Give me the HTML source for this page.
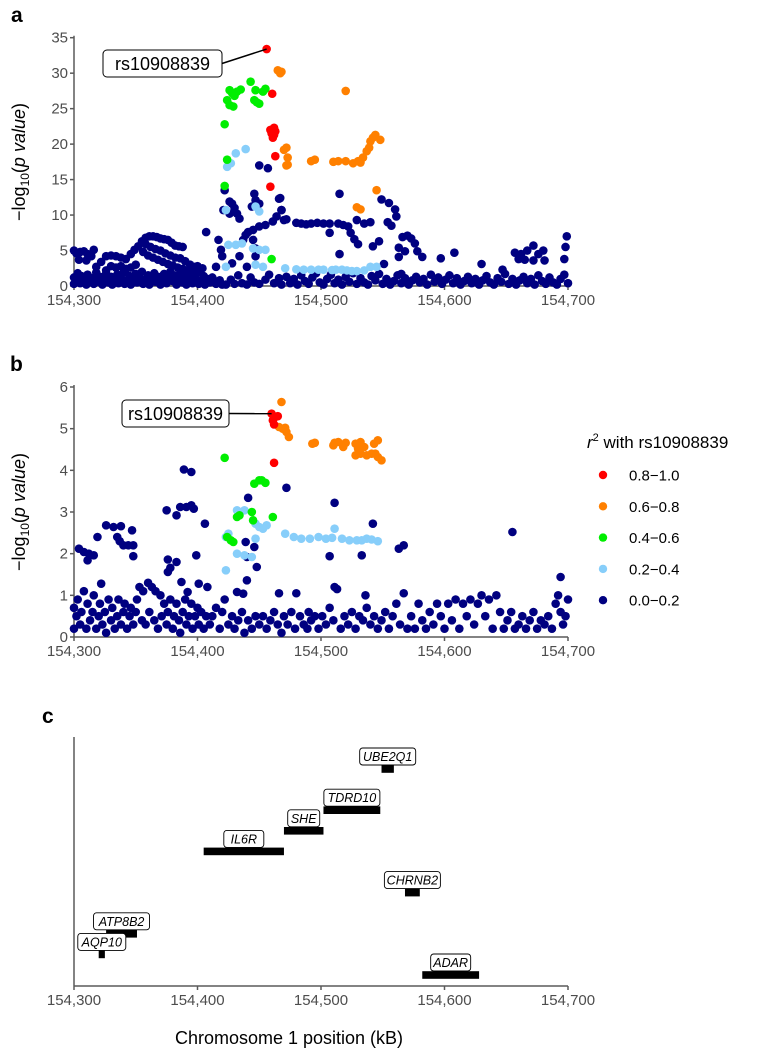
<!DOCTYPE html>
<html><head><meta charset="utf-8"><style>
html,body{margin:0;padding:0;background:#fff;}
svg{display:block;font-family:"Liberation Sans",Arial,sans-serif;}
.tick{font-size:15px;fill:#4d4d4d;}
.axis{stroke:#5a5a5a;stroke-width:1.5;fill:none;}
</style></head><body>
<svg id="fig" width="762" height="1049" viewBox="0 0 762 1049" xmlns="http://www.w3.org/2000/svg">
<text x="11" y="22" font-size="21" font-weight="bold">a</text>
<text x="10" y="371" font-size="21" font-weight="bold">b</text>
<text x="42" y="723" font-size="21" font-weight="bold">c</text>
<text transform="translate(25,162) rotate(-90)" text-anchor="middle" font-size="18" fill="#000">−log<tspan font-size="12" dy="4">10</tspan><tspan dy="-4">(</tspan><tspan font-style="italic">p value</tspan>)</text>
<text transform="translate(25,512) rotate(-90)" text-anchor="middle" font-size="18" fill="#000">−log<tspan font-size="12" dy="4">10</tspan><tspan dy="-4">(</tspan><tspan font-style="italic">p value</tspan>)</text>
<g id="gA"></g>
<g id="gB"></g>
<g id="gC"></g>
<g>
<text x="587" y="448" font-size="17"><tspan font-style="italic">r</tspan><tspan font-size="11" dy="-7">2</tspan><tspan dy="7"> with rs10908839</tspan></text>
<g id="legendItems"></g>
</g>
<text x="289" y="1044" text-anchor="middle" font-size="18">Chromosome 1 position (kB)</text>
</svg>
<script>
const xTicks=[154300,154400,154500,154600,154700];
const xTickLabels=["154,300","154,400","154,500","154,600","154,700"];
const aYTicks=[0,5,10,15,20,25,30,35];
const bYTicks=[0,1,2,3,4,5,6];
const legendLabels=["0.8−1.0","0.6−0.8","0.4−0.6","0.2−0.4","0.0−0.2"];
const legendColors=["#ff0000","#ff8000","#00ee00","#87cefa","#000080"];
// Panel a data (position kb, -log10 p)
const aRed=[[154456,33.4],[154460.5,27.1],[154459,22],[154460,21.5],[154461,22.1],[154462,21.3],[154463,21.8],[154461,20.9],[154462,22.3],[154463,18.3],[154459,14.0]];
const aOrange=[[154465,30.4],[154467,30.0],[154468,30.2],[154520,27.5],[154544,21.3],[154548,20.6],[154540,20.4],[154542,20.9],[154539,19.5],[154537,19.0],[154534,18.1],[154532,17.4],[154530,17.6],[154526,17.3],[154520,17.6],[154514,17.6],[154510,17.5],[154495,17.8],[154492,17.6],[154470,19.2],[154472,19.5],[154473,18.1],[154473,17.1],[154472,17.0],[154545,13.5],[154529,11.1],[154532,10.8]];
const aGreen=[[154443,28.8],[154426,27.6],[154432,27.4],[154435,27.7],[154430,26.8],[154428,27.2],[154447,27.6],[154453,27.4],[154455,27.8],[154446,26.2],[154450,25.7],[154448,25.9],[154424,26.2],[154426,25.5],[154429,25.3],[154422,22.8],[154424,17.8],[154422,14.1],[154460,3.8]];
const aLightBlue=[[154439,19.3],[154431,18.7],[154427,17.3],[154424,16.8],[154423,10.7],[154447,11.2],[154450,10.5],[154425,5.8],[154431,5.8],[154436,6.0],[154445,5.3],[154450,5.1],[154455,5.1],[154447,3.0],[154453,2.7],[154423,2.7],[154471,2.5],[154480,2.35],[154486,2.3],[154492,2.3],[154498,2.3],[154502,2.3],[154509,2.25],[154512,2.3],[154517,2.3],[154521,2.2],[154525,2.1],[154529,2.1],[154535,2.2],[154540,2.7],[154545,2.7]];
const aNavy=[[154300,5],[154302,4.6],[154305,4.8],[154308,4.9],[154311,4.5],[154314,4.2],[154316,5.1],[154304,3.7],[154310,3.6],[154318,2.7],[154322,3.4],[154326,4.2],[154330,4.3],[154334,4.2],[154338,4],[154342,3.8],[154346,4.5],[154349,5.1],[154352,5.6],[154355,6.3],[154358,6.8],[154361,7],[154364,7],[154367,6.9],[154370,6.7],[154373,6.6],[154376,6.5],[154379,6.1],[154382,5.7],[154385,5.6],[154388,5.5],[154358,5.9],[154362,5.5],[154366,5.2],[154370,5],[154374,4.6],[154378,4.3],[154382,4],[154386,3.9],[154390,3.5],[154394,3],[154398,2.7],[154356,4.8],[154360,4.3],[154364,4],[154368,3.7],[154372,3.4],[154376,3.1],[154380,2.9],[154384,2.6],[154388,2.4],[154392,2.2],[154396,2.4],[154400,2.8],[154404,2.5],[154407,7.6],[154330,2.8],[154334,2.6],[154338,2.8],[154342,2.4],[154346,2.6],[154350,3],[154326,2.2],
[154422,13.5],[154426,11.9],[154428,11.6],[154430,11.0],[154432,10.2],[154421,10.7],[154426,10.2],[154434,9.5],[154446,13.0],[154447,12.1],[154444,11.2],[154450,11.6],[154450,17.0],[154457,16.6],[154466,12.3],[154468,10.7],[154464,9.8],[154461,9.1],[154455,8.6],[154450,8.4],[154445,7.9],[154439,7.2],[154437,6.5],[154441,7.6],[154445,6.5],[154447,5.3],[154447,4.2],[154440,2.7],[154417,6.5],[154419,5.1],[154420,4.2],[154415,2.7],[154428,3.2],[154434,4.2],[154470,9.3],[154480,8.9],[154484,8.8],[154488,8.7],[154492,8.8],[154497,8.9],[154502,8.8],[154507,8.8],[154514,8.8],[154518,8.6],[154522,8.4],[154529,9.3],[154535,8.8],[154540,9.0],[154524,7.5],[154527,6.6],[154530,5.9],[154507,7.5],[154515,4.5],[154515,13.0],[154467,12.4],[154468,10.7],[154472,9.4],[154549,12.2],[154555,11.7],[154560,10.8],[154561,9.8],[154554,9.0],[154557,8.5],[154547,6.3],[154542,5.6],[154551,3.1],[154566,6.9],[154570,7.1],[154573,6.7],[154576,6],[154563,5.4],[154568,4.9],[154563,4.1],[154578,4.9],[154582,4.1],[154565,1.7],[154597,3.9],[154608,4.7],[154630,3.1],[154647,2.3],[154657,4.7],[154662,4.5],[154667,5.0],[154672,5.7],[154676,4.5],[154680,5],[154681,3.6],[154699,7.0],[154698,5.5],[154697,3.8],[154660,3.8],[154665,3.7],[154672,3.6],
[154300,0.3],[154300,1.2],[154302,0.8],[154303,1.8],[154305,0.4],[154306,1.4],[154308,0.9],[154310,0.2],[154311,1.6],[154313,0.7],[154315,1.1],[154316,0.3],[154318,1.9],[154320,0.6],[154321,1.3],[154323,0.2],[154325,1.0],[154326,1.7],[154328,0.5],[154330,1.3],[154331,0.2],[154333,0.9],[154335,1.6],[154336,0.4],[154338,1.1],[154340,1.9],[154341,0.3],[154343,0.8],[154345,1.4],[154346,0.2],[154348,1.0],[154350,1.7],[154351,0.5],[154353,1.2],[154355,2.0],[154356,0.3],[154358,0.9],[154360,1.5],[154361,0.2],[154363,1.1],[154365,1.8],[154366,0.6],[154368,1.3],[154370,0.2],[154371,1.0],[154373,1.7],[154375,0.4],[154376,1.2],[154378,2.0],[154380,0.7],[154381,1.5],[154383,0.2],[154385,1.0],[154386,1.8],[154388,0.5],[154390,1.3],[154391,0.2],[154393,0.9],[154395,1.6],[154396,0.4],[154398,1.1],[154400,1.9],[154401,0.3],[154403,0.8],[154405,1.4],[154406,0.2],[154408,1.0],[154410,0.5],[154412,1.2],[154415,0.3],[154418,0.8],[154420,0.2],
[154423,0.2],[154427,0.9],[154430,0.3],[154433,1.5],[154436,0.4],[154440,0.2],[154443,1.2],[154446,0.5],[154450,0.3],[154455,0.9],[154458,1.6],[154462,0.4],[154466,1.1],[154468,0.2],
[154472,1.3],[154475,0.4],[154478,1.0],[154481,0.2],[154484,1.5],[154487,0.7],[154490,0.3],[154493,1.2],[154496,1.8],[154499,0.5],[154502,0.2],[154505,1.0],[154508,1.6],[154511,0.4],[154514,0.9],[154517,0.2],[154520,1.3],[154523,0.6],[154526,1.8],[154529,0.3],[154532,1.1],[154535,0.5],[154538,0.2],[154541,1.4],[154544,0.8],[154547,1.7],[154550,0.3],[154553,1.0],[154556,0.2],[154559,0.7],[154562,1.5],[154565,0.4],[154568,1.1],[154571,0.2],[154574,0.8],[154577,1.3],[154580,0.5],[154583,1.0],[154586,0.2],[154589,1.6],[154592,0.6],[154595,1.2],[154598,0.3],[154601,0.9],[154604,1.5],[154607,0.4],[154610,1.1],[154613,0.2],[154616,0.7],[154619,1.3],[154622,0.4],[154625,1.0],[154628,0.2],[154631,0.8],[154634,1.4],[154637,0.5],[154640,0.2],[154643,1.1],[154646,0.6],[154649,1.7],[154652,0.3],[154655,1.0],[154658,0.2],[154661,0.8],[154664,1.3],[154667,0.4],[154670,1.0],[154673,0.2],[154676,1.5],[154679,0.7],[154682,0.3],[154685,1.2],[154688,0.5],[154691,0.2],[154694,1.0],[154697,1.6],[154700,0.4]];
// Panel b data
const bRed=[[154460,5.36],[154463,5.28],[154461,5.2],[154465,5.3],[154462,5.1],[154462,4.18]];
const bOrange=[[154468,5.64],[154466,5.04],[154469,5.0],[154472,4.92],[154474,4.8],[154471,5.02],[154495,4.66],[154493,4.64],[154510,4.6],[154511,4.66],[154514,4.68],[154520,4.66],[154518,4.56],[154528,4.64],[154530,4.52],[154532,4.68],[154535,4.56],[154528,4.36],[154532,4.4],[154537,4.36],[154541,4.4],[154546,4.72],[154543,4.64],[154544,4.4],[154549,4.24],[154546,4.32]];
const bGreen=[[154422,4.3],[154446,3.68],[154450,3.76],[154452,3.76],[154455,3.7],[154444,3.0],[154445,2.8],[154461,2.88],[154432,2.88],[154434,2.92],[154424,2.4],[154427,2.32],[154429,2.28]];
const bLightBlue=[[154432,3.04],[154438,3.04],[154447,2.72],[154450,2.64],[154453,2.6],[154456,2.68],[154423,2.4],[154425,2.48],[154447,2.36],[154432,2.0],[154438,1.96],[154444,1.92],[154423,1.6],[154471,2.48],[154478,2.4],[154484,2.36],[154491,2.36],[154498,2.4],[154504,2.36],[154511,2.6],[154509,2.38],[154517,2.36],[154523,2.32],[154529,2.32],[154533,2.32],[154537,2.36],[154541,2.34],[154546,2.3]];
const bNavy=[[154304,2.12],[154308,2.04],[154312,2.0],[154316,1.96],[154311,1.84],[154319,2.4],[154326,2.68],[154332,2.64],[154338,2.66],[154335,2.4],[154337,2.3],[154340,2.2],[154344,2.2],[154347,2.56],[154348,2.2],[154348,1.94],[154322,1.28],[154376,1.86],[154383,1.8],[154378,1.66],[154376,1.56],[154375,3.04],[154383,2.92],[154386,3.12],[154391,3.12],[154395,3.16],[154397,3.08],[154389,4.02],[154395,3.96],[154406,2.72],[154399,1.96],[154387,1.32],[154392,1.08],[154401,1.28],[154408,1.2],[154441,3.34],[154439,2.28],[154446,2.16],[154440,1.92],[154448,1.68],[154440,1.36],[154432,1.08],[154437,1.04],[154472,3.58],[154511,3.22],[154507,1.94],[154533,1.96],[154542,2.72],[154563,2.12],[154567,2.2],[154655,2.52],[154694,1.44],
[154300,0.2],[154300,0.7],[154302,0.5],[154303,0.9],[154305,0.3],[154306,0.6],[154308,1.1],[154310,0.2],[154311,0.8],[154313,0.4],[154315,0.6],[154316,1.0],[154318,0.2],[154320,0.5],[154321,0.8],[154323,0.3],[154325,0.6],[154326,0.1],[154328,0.9],[154330,0.4],[154331,0.7],[154333,0.2],[154335,0.5],[154336,0.9],[154338,0.3],[154340,0.6],[154341,0.8],[154343,0.2],[154345,0.5],[154346,0.7],[154348,0.3],[154350,0.6],[154351,0.9],[154353,1.2],[154355,0.4],[154356,1.1],[154358,0.3],[154360,1.3],[154361,0.6],[154363,1.2],[154365,0.4],[154366,1.1],[154368,0.2],[154370,1.0],[154371,0.5],[154373,0.8],[154375,0.3],[154376,0.6],[154378,0.9],[154380,0.2],[154381,0.5],[154383,0.8],[154385,0.4],[154386,0.1],[154388,0.6],[154390,0.9],[154391,0.3],[154393,0.5],[154395,0.8],[154396,0.2],[154398,0.5],[154400,0.7],[154401,0.3],[154403,0.6],[154405,0.2],[154407,0.5],[154410,0.3],[154412,0.5],[154415,0.7],[154418,0.2],[154420,0.6],[154422,0.9],[154425,0.3],[154428,0.5],[154430,0.2],[154433,0.4],[154436,0.6],[154438,0.1],[154441,0.4],[154444,0.2],[154447,0.5],[154450,0.3],[154453,0.5],[154456,0.2],[154459,0.4],[154462,0.6],[154465,0.3],[154466,1.05],[154468,0.1],[154470,0.5],[154473,0.3],[154476,0.6],[154479,0.2],[154480,1.05],[154483,0.5],[154486,0.3],[154489,0.2],[154490,0.6],[154492,0.4],[154495,0.5],[154498,0.2],[154501,0.5],[154504,0.3],[154507,0.7],[154510,0.4],[154511,1.2],[154513,1.15],[154516,0.2],[154519,0.5],[154522,0.3],[154525,0.6],[154528,0.2],[154531,0.5],[154534,0.4],[154536,1.0],[154537,0.7],[154540,0.3],[154543,0.5],[154546,0.2],[154549,0.4],[154552,0.6],[154555,0.2],[154558,0.5],[154561,0.8],[154564,0.3],[154567,1.05],[154570,0.2],[154573,0.5],[154576,0.2],[154579,0.8],[154582,0.4],[154585,0.2],[154588,0.6],[154591,0.3],[154594,0.8],[154597,0.5],[154600,0.2],[154603,0.8],[154606,0.4],[154609,0.9],[154612,0.2],[154615,0.8],[154618,0.5],[154621,0.9],[154624,0.3],[154627,0.8],[154630,1.0],[154633,0.5],[154636,0.9],[154639,0.2],[154642,1.0],[154645,0.6],[154648,0.2],[154651,0.4],[154654,0.6],[154657,0.2],[154660,0.3],[154663,0.5],[154666,0.2],[154669,0.4],[154672,0.6],[154675,0.2],[154678,0.4],[154681,0.3],[154684,0.5],[154687,0.2],[154690,0.8],[154692,1.0],[154694,0.6],[154696,0.3],[154698,0.5],[154700,0.9]];
// Panel c genes
const geneNames=["UBE2Q1","TDRD10","SHE","IL6R","CHRNB2","ATP8B2","AQP10","ADAR"];
const geneStart=[154549,154502,154470,154405,154568,154326,154320,154582];
const geneEnd=[154559,154548,154502,154470,154580,154351,154325,154628];
const geneLevel=[10,8,7,6,4,2,1,0];

const NS="http://www.w3.org/2000/svg";
const X0=74, X1=568;
const R=4.3;
function xScale(kb){return X0+(kb-154300)/(400)*(X1-X0);}
function mk(parent,tag,attrs){const e=document.createElementNS(NS,tag);for(const k in attrs)e.setAttribute(k,attrs[k]);parent.appendChild(e);return e;}

function panel(g,yMin,yTop,maxV,ticks,series,nameP){
  const yS=v=>yMin-(v/maxV)*(yMin-yTop);
  const yl=mk(g,"line",{x1:X0,y1:yTop-2,x2:X0,y2:yMin,class:"axis"});
  
  
  const xl=mk(g,"line",{x1:X0,y1:yMin,x2:X1,y2:yMin,class:"axis"});
  
  
  ticks.forEach(t=>{
    mk(g,"line",{x1:X0-4,x2:X0,y1:yS(t),y2:yS(t),class:"axis"});
    const tx=mk(g,"text",{x:X0-6,y:yS(t)+5,"text-anchor":"end",class:"tick"});
    tx.textContent=t;
    
    
  });
  xTicks.forEach((t,i)=>{
    mk(g,"line",{x1:xScale(t),x2:xScale(t),y1:yMin,y2:yMin+4,class:"axis"});
    const tx=mk(g,"text",{x:xScale(t),y:yMin+19,"text-anchor":"middle",class:"tick"});
    tx.textContent=xTickLabels[i];
    
    
  });
  series.forEach(([data,col,nm])=>{
    data.forEach(d=>{
      const c=mk(g,"circle",{cx:xScale(d[0]),cy:yS(d[1]),r:R,fill:col});
      
      
    });
  });
  return yS;
}
const yA=panel(document.getElementById("gA"),286,37.7,35,aYTicks,[[aNavy,"#000080","r2-0.0-0.2"],[aLightBlue,"#87cefa","r2-0.2-0.4"],[aGreen,"#00ee00","r2-0.4-0.6"],[aOrange,"#ff8000","r2-0.6-0.8"],[aRed,"#ff0000","r2-0.8-1.0"]],"panel-a");
const yB=panel(document.getElementById("gB"),637,387,6,bYTicks,[[bNavy,"#000080","r2-0.0-0.2"],[bLightBlue,"#87cefa","r2-0.2-0.4"],[bGreen,"#00ee00","r2-0.4-0.6"],[bOrange,"#ff8000","r2-0.6-0.8"],[bRed,"#ff0000","r2-0.8-1.0"]],"panel-b");

function leadLabel(g,px,py,bx,by,bw,bh,name){
  mk(g,"line",{x1:bx+bw,y1:by+bh/2,x2:px,y2:py,stroke:"#000","stroke-width":1.5});
  const r=mk(g,"rect",{x:bx,y:by,width:bw,height:bh,rx:4,fill:"#fff",stroke:"#000","stroke-width":1});
  
  
  const t=mk(g,"text",{x:bx+bw/2,y:by+bh/2+6.5,"text-anchor":"middle","font-size":"18"});
  t.textContent="rs10908839";
  
  
}
leadLabel(document.getElementById("gA"),xScale(aRed[0][0]),yA(aRed[0][1]),103,50,119,27,"panel-a-lead-snp-label");
leadLabel(document.getElementById("gB"),xScale(bRed[0][0]),yB(bRed[0][1]),122,400,107,27,"panel-b-lead-snp-label");

// Legend
const lg=document.getElementById("legendItems");
legendLabels.forEach((lab,i)=>{
  const y=475+i*31.3;
  const c=mk(lg,"circle",{cx:603,cy:y,r:4.2,fill:legendColors[i]});
  
  
  const t=mk(lg,"text",{x:629,y:y+5.5,"font-size":"15"});
  t.textContent=lab;
  
  
});

// Panel c
const gC=document.getElementById("gC");
const cY0=986;
const levelY=l=>975-20.6*l;
const cyl=mk(gC,"line",{x1:X0,y1:737,x2:X0,y2:cY0,class:"axis"});


const cxl=mk(gC,"line",{x1:X0,y1:cY0,x2:X1,y2:cY0,class:"axis"});


xTicks.forEach((t,i)=>{
  mk(gC,"line",{x1:xScale(t),x2:xScale(t),y1:cY0,y2:cY0+4,class:"axis"});
  const tx=mk(gC,"text",{x:xScale(t),y:cY0+19,"text-anchor":"middle",class:"tick"});
  tx.textContent=xTickLabels[i];
  
  
});
geneNames.forEach((nm,i)=>{
  const x1=xScale(geneStart[i]),x2=xScale(geneEnd[i]),yc=levelY(geneLevel[i]);
  const b=mk(gC,"rect",{x:x1,y:yc-3.8,width:Math.max(x2-x1,4),height:7.6,fill:"#000"});
  
  
  const cx=(x1+x2)/2, w=nm.length*8+8;
  const r=mk(gC,"rect",{x:cx-w/2,y:yc-21,width:w,height:17,rx:3,fill:"#fff",stroke:"#000","stroke-width":0.9});
  
  
  const t=mk(gC,"text",{x:cx,y:yc-8,"text-anchor":"middle","font-size":"12.5","font-style":"italic"});
  t.textContent=nm;
  
  
});
</script>
</body></html>
